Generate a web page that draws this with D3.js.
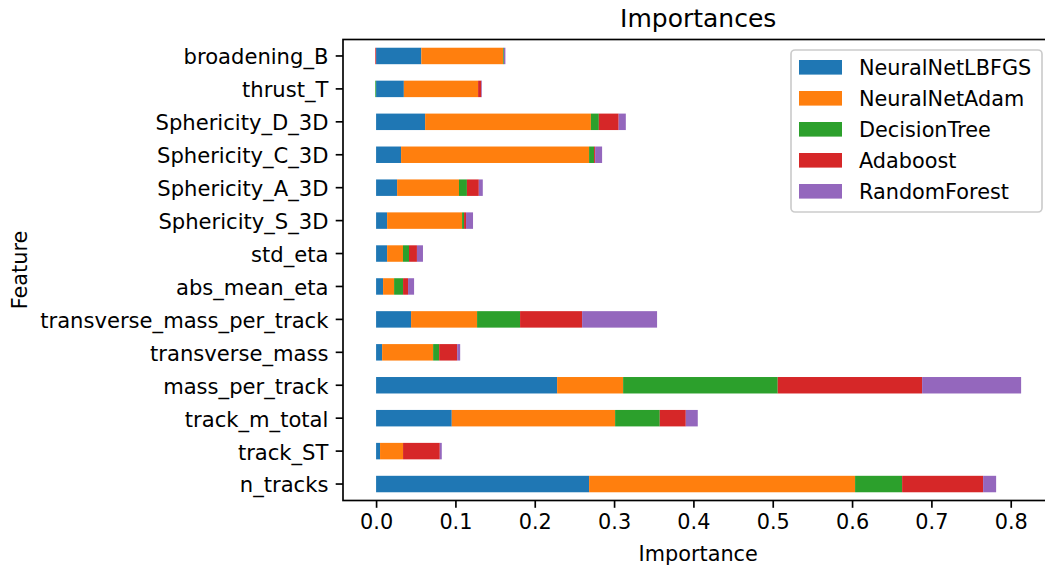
<!DOCTYPE html>
<html>
<head>
<meta charset="utf-8">
<script src="https://cdn.jsdelivr.net/npm/d3@7"></script>
<style>
  body { margin: 0; background: #fff; }
  svg { display: block; font-family: "DejaVu Sans", sans-serif; }
</style>
</head>
<body>
<svg id="chart" width="1045" height="566"></svg>
<script>
// features, bottom to top (same order as the frame index)
const features = [
  "n_tracks", "track_ST", "track_m_total", "mass_per_track", "transverse_mass",
  "transverse_mass_per_track", "abs_mean_eta", "std_eta", "Sphericity_S_3D",
  "Sphericity_A_3D", "Sphericity_C_3D", "Sphericity_D_3D", "thrust_T", "broadening_B"
];
const models = ["NeuralNetLBFGS", "NeuralNetAdam", "DecisionTree", "Adaboost", "RandomForest"];
const colors = ["#1f77b4", "#ff7f0e", "#2ca02c", "#d62728", "#9467bd"];

// importances per model, same order as features
const neuralNetLBFGS = [0.2685, 0.005, 0.0954, 0.2282, 0.0076, 0.0441, 0.0088, 0.0139, 0.0139, 0.0265, 0.0315, 0.0618, 0.035, 0.057];
const neuralNetAdam  = [0.3353, 0.029, 0.2059, 0.0832, 0.0643, 0.0832, 0.0139, 0.020, 0.0945, 0.078, 0.237, 0.209, 0.0936, 0.103];
const decisionTree   = [0.0593, 0.0, 0.0563, 0.1949, 0.0076, 0.0542, 0.0113, 0.0076, 0.0025, 0.010, 0.0063, 0.010, -0.001, 0.001];
const adaboost       = [0.1021, 0.0463, 0.0328, 0.182, 0.0227, 0.0782, 0.0063, 0.010, 0.0025, 0.015, 0.0013, 0.025, 0.004, -0.001];
const randomForest   = [0.0164, 0.0025, 0.0151, 0.1248, 0.0038, 0.0945, 0.0076, 0.0076, 0.0088, 0.005, 0.0088, 0.009, 0.0008, 0.002];

const xTicks = [0, 0.1, 0.2, 0.3, 0.4, 0.5, 0.6, 0.7, 0.8];

const series = [neuralNetLBFGS, neuralNetAdam, decisionTree, adaboost, randomForest];
const rows = features.map((f, i) => {
  const r = { feature: f };
  models.forEach((m, j) => { r[m] = series[j][i]; });
  return r;
});

const fs = 20.8;           // 10pt at 150 dpi
const tick = 7.3;          // 3.5pt
const lw = 1.67;           // 0.8pt

const svg = d3.select("#chart");
const plot = { left: 343, top: 39.5, bottom: 500.5 };

const stacked = d3.stack().keys(models).offset(d3.stackOffsetDiverging)(rows);
const lo = d3.min(stacked, s => d3.min(s, d => d[0]));
const hi = d3.max(stacked, s => d3.max(s, d => d[1]));
const pad = (hi - lo) * 0.05;
const pxPerUnit = 793.3;
const xDomain = [lo - pad, hi + pad];
const x = d3.scaleLinear()
  .domain(xDomain)
  .range([plot.left, plot.left + (xDomain[1] - xDomain[0]) * pxPerUnit]);

const y = d3.scaleBand()
  .domain(features.slice().reverse())
  .range([plot.top, plot.bottom])
  .paddingInner(0.5)
  .paddingOuter(0.25);

// bars
svg.append("g")
  .selectAll("g")
  .data(stacked)
  .join("g")
  .attr("fill", (d, i) => colors[i])
  .selectAll("rect")
  .data(d => d)
  .join("rect")
  .attr("x", d => x(Math.min(d[0], d[1])))
  .attr("width", d => Math.abs(x(d[1]) - x(d[0])))
  .attr("y", d => y(d.data.feature))
  .attr("height", y.bandwidth());

// frame
svg.append("rect")
  .attr("x", x.range()[0])
  .attr("y", plot.top)
  .attr("width", x.range()[1] - x.range()[0])
  .attr("height", plot.bottom - plot.top)
  .attr("fill", "none")
  .attr("stroke", "#000")
  .attr("stroke-width", lw);

// x axis
const xAxis = svg.append("g")
  .attr("transform", `translate(0,${plot.bottom})`)
  .call(d3.axisBottom(x).tickValues(xTicks).tickFormat(d3.format(".1f")).tickSize(tick).tickPadding(tick - 0.5));
xAxis.select(".domain").remove();
xAxis.selectAll("line").attr("stroke-width", lw);
xAxis.selectAll("text").attr("font-size", fs).attr("font-family", "DejaVu Sans").attr("fill", "#000");

// y axis
const yAxis = svg.append("g")
  .attr("transform", `translate(${plot.left},0)`)
  .call(d3.axisLeft(y).tickSize(tick).tickPadding(tick));
yAxis.select(".domain").remove();
yAxis.selectAll("line").attr("stroke-width", lw);
yAxis.selectAll("text")
  .attr("font-size", 21.1)
  .attr("dy", "0.4em")
  .attr("font-family", "DejaVu Sans")
  .attr("fill", "#000");

const midX = (x.range()[0] + x.range()[1]) / 2;

// title and axis labels
svg.append("text")
  .attr("x", midX).attr("y", 26.5)
  .attr("text-anchor", "middle")
  .attr("font-size", 25)
  .text("Importances");

svg.append("text")
  .attr("x", midX).attr("y", 560.5)
  .attr("text-anchor", "middle")
  .attr("font-size", fs)
  .text("Importance");

svg.append("text")
  .attr("transform", `translate(27,${(plot.top + plot.bottom) / 2}) rotate(-90)`)
  .attr("text-anchor", "middle")
  .attr("font-size", fs)
  .text("Feature");

// legend
const legend = svg.append("g").attr("transform", "translate(791,50)");
legend.append("rect")
  .attr("width", 251).attr("height", 162)
  .attr("rx", 4)
  .attr("fill", "#fff").attr("fill-opacity", 0.8)
  .attr("stroke", "#cccccc").attr("stroke-width", lw);

const items = legend.selectAll("g.item")
  .data(models)
  .join("g")
  .attr("class", "item")
  .attr("transform", (d, i) => `translate(0,${17.3 + i * 31})`);
items.append("rect")
  .attr("x", 8).attr("y", -7.3)
  .attr("width", 43).attr("height", 14.6)
  .attr("fill", (d, i) => colors[i]);
items.append("text")
  .attr("x", 68).attr("y", 7.5)
  .attr("font-size", fs)
  .text(d => d);
</script>
</body>
</html>
